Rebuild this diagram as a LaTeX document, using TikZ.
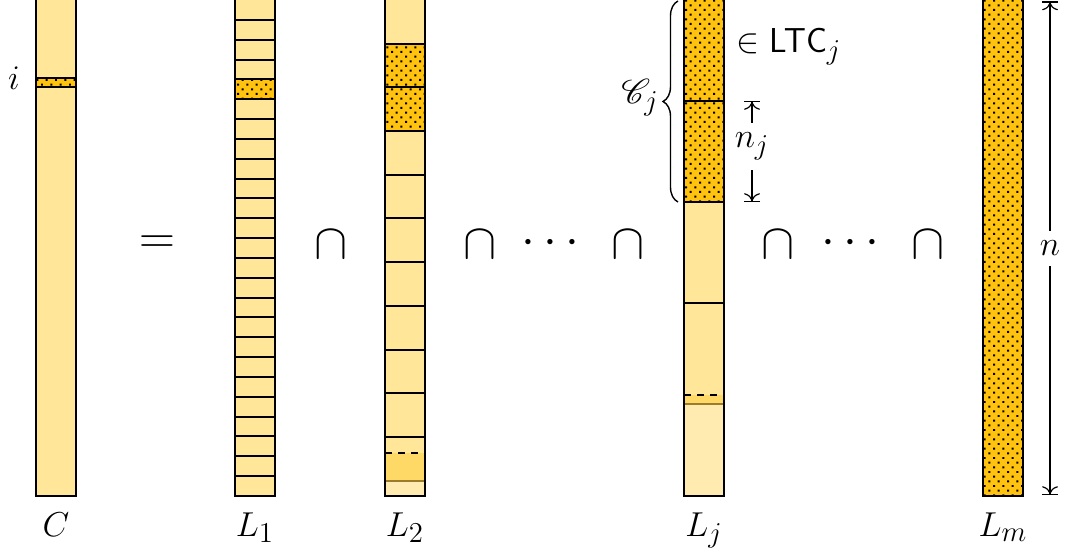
\documentclass[tikz,border=0pt]{standalone}
\usepackage{amsmath}
\usepackage{amssymb}
\usepackage{mathrsfs}
\usetikzlibrary{arrows.meta,patterns.meta,decorations.pathreplacing}
\definecolor{cellfill}{HTML}{FFE699}
\definecolor{hitfill}{HTML}{FFC20E}
\definecolor{bandfill}{HTML}{FFD966}
\definecolor{palefill}{HTML}{FFEBB0}
\definecolor{bandline}{HTML}{9C7C2C}

\begin{document}
\begin{tikzpicture}[x=0.5pt,y=-0.5pt,
  lbl/.style={font=\fontsize{19}{23}\selectfont, inner sep=1pt},
  opr/.style={font=\fontsize{26}{30}\selectfont, inner sep=0pt},
  colbox/.style={draw=black, line width=1pt},
  cellline/.style={draw=black, line width=1pt},
  hit/.style={fill=hitfill, postaction={pattern={Dots[distance=3.3pt,radius=0.7pt,angle=45]}, pattern color=black}},
  cut/.style={draw=black, line width=1pt, dash pattern=on 3.5pt off 3pt},
  band/.style={draw=bandline, line width=0.8pt},
  dim/.style={{Bar[width=8pt]To[scale=1.3]}-{To[scale=1.3]Bar[width=8pt]}, line width=0.6pt},
]
\useasboundingbox (0,0) rectangle (1070,556);
\clip (0,0) rectangle (1070,556);
% column C
\fill[cellfill] (36,-4) rectangle (76,496);
\fill[hit] (36,78) rectangle (76,87);
\draw[cellline] (36,78) -- ++(40,0) (36,87) -- ++(40,0);
\draw[colbox] (36,-4) rectangle (76,496);
% column L_1
\fill[cellfill] (235,-4) rectangle (275,496);
\fill[hit] (235,79) rectangle (275,99);
\foreach \k in {1,...,24} \draw[cellline] (235,{round(\k*19.84)}) -- ++(40,0);
\draw[colbox] (235,-4) rectangle (275,496);
% column L_2
\fill[cellfill] (385,-4) rectangle (425,453);
\fill[bandfill] (385,453) rectangle (425,481);
\fill[palefill] (385,481) rectangle (425,496);
\fill[hit] (385,44) rectangle (425,131);
\foreach \k in {1,...,10} \draw[cellline] (385,{round(\k*43.7)}) -- ++(40,0);
\draw[cut] (385,453) -- ++(40,0);
\draw[band] (385,481) -- ++(40,0);
\draw[colbox] (385,-4) rectangle (425,496);
% column L_j
\fill[cellfill] (684,-4) rectangle (724,395);
\fill[bandfill] (684,395) rectangle (724,404);
\fill[palefill] (684,404) rectangle (724,496);
\fill[hit] (684,-4) rectangle (724,202);
\foreach \k in {1,2,3} \draw[cellline] (684,{\k*101}) -- ++(40,0);
\draw[cut] (684,395) -- ++(40,0);
\draw[band] (684,404) -- ++(40,0);
\draw[colbox] (684,-4) rectangle (724,496);
% column L_m
\fill[hit] (983,-4) rectangle (1023,496);
\draw[colbox] (983,-4) rectangle (1023,496);
% operators
\node[opr] (eq) at (157,245) {$=$};
\node[opr] (cap1) at (331,245) {$\cap$};
\node[opr] (cap2) at (480,245) {$\cap$};
\node[opr] (dots1) at (555,243) {$\cdots$};
\node[opr] (cap3) at (628,245) {$\cap$};
\node[opr] (cap4) at (778,245) {$\cap$};
\node[opr] (dots2) at (855,243) {$\cdots$};
\node[opr] (cap5) at (928,245) {$\cap$};
% labels
\node[lbl,anchor=base] (ilbl) at (14,90) {$i$};
\node[lbl,anchor=base] (clbl) at (56,536) {$C$};
\node[lbl,anchor=base] (l1lbl) at (255,536) {$L_1$};
\node[lbl,anchor=base] (l2lbl) at (405,536) {$L_2$};
\node[lbl,anchor=base] (ljlbl) at (704,536) {$L_j$};
\node[lbl,anchor=base] (lmlbl) at (1003,536) {$L_m$};
% block C_j
\draw[decorate,decoration={brace,amplitude=7.5pt},line width=0.7pt] (678,202) -- (678,1);
\node[lbl,anchor=east] (cjlbl) at (661,98) {$\mathscr{C}_j$};
\node[lbl,anchor=west] (ltc) at (734,47) {$\in \mathsf{LTC}_j$};
\coordinate (njtop) at (752,101);
\coordinate (njbot) at (752,202);
\draw[dim] (njtop) -- node[lbl,pos=0.45,fill=white,inner sep=5pt] (njlbl) {$n_j$} (njbot);
% length n
\coordinate (ntop) at (1050,1.5);
\coordinate (nbot) at (1050,495);
\draw[dim] (ntop) -- node[lbl,fill=white,inner sep=5pt] (nlbl) {$n$} (nbot);
\end{tikzpicture}
\end{document}
